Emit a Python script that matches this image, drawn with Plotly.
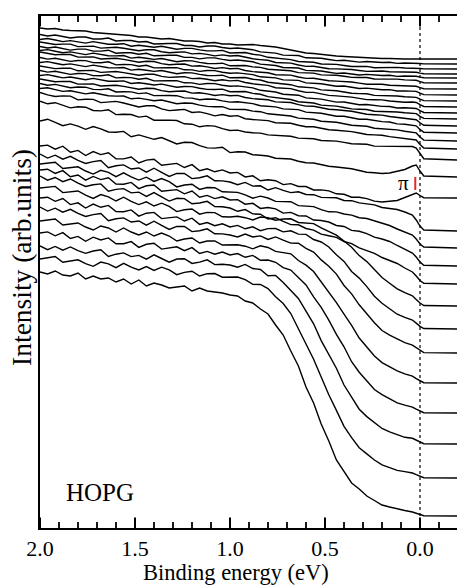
import plotly.graph_objects as go

# Binding energy grid (eV)
E = [2.00, 1.96, 1.92, 1.88, 1.84, 1.80, 1.76, 1.72, 1.68, 1.64, 1.60, 1.56, 1.52, 1.48, 1.44,
     1.40, 1.36, 1.32, 1.28, 1.24, 1.20, 1.16, 1.12, 1.08, 1.04, 1.00, 0.96, 0.92, 0.88, 0.84,
     0.80, 0.76, 0.72, 0.68, 0.64, 0.60, 0.56, 0.52, 0.48, 0.44, 0.40, 0.36, 0.32, 0.28, 0.24,
     0.20, 0.16, 0.12, 0.08, 0.04, 0.02, 0.00, -0.02, -0.20]

# vertical offsets of the stacked EDCs (top to bottom)
OFFSETS = [469, 464, 459, 454, 450, 445, 439, 433, 427, 421, 415, 409, 402, 395, 387, 379, 368,
           351,
           330, 297, 280, 262, 244, 222, 199, 175, 145, 115, 84, 50, 12]

# intensity profiles (above each curve's offset)
T01 = [31, 30, 30.5, 29, 28.5, 28, 28, 26.5, 26, 25.5, 24.5, 24, 23.5, 22, 22, 21, 20, 20.5, 19, 18, 18, 17.5, 16, 16.5, 15, 15, 14, 14.5,
       14.5, 13.5, 13, 12, 10.5, 9, 7, 6, 5.5, 4.5, 3.5, 3, 2.5, 2, 1.5, 1, 1, 0.5, 0.5, 0, 0, 0, 0, 0, 0, 0]
T02 = [29.5, 28, 29, 27.5, 26, 27, 27, 25, 25, 26, 23, 23.5, 23.5, 22, 22.5, 20, 20.5, 20.5, 20.5, 18.5, 18.5, 17, 18, 18, 16.5, 15.5, 16, 15,
       14.3, 12.1, 11.4, 10.9, 8.9, 8.4, 8.5, 6.2, 5.9, 5.7, 4.5, 3.4, 3.8, 2.8, 1.9, 2.5, 1.7, 1.5, 1.8, 0.6, 1, 1, 0.9, 0.5, 0.1, 0]
T03 = [29.5, 30.5, 29, 27.4, 28.4, 27.4, 25.9, 27.4, 26.4, 24.8, 24.8, 25.3, 22.8, 23.8, 22.7, 21.7, 22.7, 21.2, 19.7, 20.6, 20.6, 19.1, 18.1, 18.1, 18.6, 16, 16.5, 16.5,
       14.7, 13.9, 11.7, 11, 10.5, 9.4, 7.5, 7.1, 6.7, 5, 4.75, 4.6, 3.5, 2.5, 2.5, 2.6, 1.3, 1.5, 1.3, 1.6, 1, 1, 0.9, 0.5, 0.1, 0]
T04 = [32, 30.5, 29.5, 29.9, 29.9, 27.4, 27.9, 27.9, 25.9, 26.3, 26.8, 25.8, 24.8, 23.3, 24.2, 24.2, 22.2, 21.2, 21.7, 22.1, 20.1, 20.6, 19.6, 18.1, 19.1, 18, 18.5, 16.5,
       15.2, 14.4, 13.7, 11.5, 11, 10.9, 9, 7.6, 7.7, 6.5, 5.25, 5.1, 5, 4.5, 3.5, 2.6, 2.8, 3, 2.3, 2.1, 1.5, 2, 1.8, 0.9, 0.2, 0]
T05 = [31.5, 30, 31, 29.4, 27.9, 28.9, 28.9, 26.9, 26.9, 27.8, 24.8, 25.3, 25.3, 23.8, 24.7, 22.2, 22.7, 22.7, 22.7, 20.6, 20.6, 19.1, 20.1, 20.1, 18.6, 17.5, 18, 17,
       16.2, 13.9, 13.2, 12.5, 10.5, 9.9, 10, 7.6, 7.2, 7, 5.75, 4.6, 5, 4, 3, 3.6, 2.8, 2.5, 2.8, 1.6, 2, 2, 1.8, 0.9, 0.2, 0]
T06 = [32.5, 33.4, 31.8, 30.2, 31.1, 30, 28.4, 29.9, 28.8, 27.2, 27.1, 27.5, 24.9, 25.8, 24.7, 23.6, 24.5, 22.9, 21.3, 22.2, 22.1, 20.6, 19.5, 19.4, 19.8, 17.2, 17.6, 17.5,
       16.1, 15.6, 13.7, 13.4, 13, 12.2, 10.4, 10.1, 9.9, 8.1, 8, 7.8, 6.7, 5.6, 5.5, 5.5, 4, 4.1, 3.7, 3.9, 3.1, 3, 2.7, 1.4, 0.3, 0]
T07 = [37, 35.4, 34.2, 34.6, 34.5, 31.9, 32.2, 32.1, 30, 30.3, 30.7, 29.6, 28.5, 26.8, 27.7, 27.5, 25.4, 24.3, 24.7, 25, 22.9, 23.3, 22.1, 20.5, 21.4, 20.3, 20.6, 18.5,
       17.4, 16.9, 16.3, 14.3, 13.9, 13.9, 12, 10.6, 10.8, 9.4, 8.2, 7.9, 7.7, 7, 5.9, 4.8, 4.7, 4.7, 3.8, 3.4, 2.65, 3, 2.7, 1.4, 0.3, 0]
T08 = [37.5, 35.9, 36.8, 35.2, 33.6, 34.5, 34.4, 32.4, 32.3, 33.2, 30.1, 30.5, 30.4, 28.8, 29.7, 27.1, 27.5, 27.4, 27.3, 25.2, 25.1, 23.6, 24.5, 24.4, 22.8, 21.7, 22.1, 21,
       20.4, 18.2, 17.7, 17.1, 15.1, 14.5, 14.6, 12.1, 11.7, 11.3, 10, 8.7, 9, 7.7, 6.5, 6.9, 5.8, 5.3, 5.35, 3.96, 4.16, 4, 3.6, 1.8, 0.4, 0]
T09 = [38.5, 39.4, 37.8, 36.2, 37.1, 36, 34.4, 35.9, 34.8, 33.2, 33.1, 33.5, 30.9, 31.8, 30.7, 29.6, 30.5, 28.9, 27.3, 28.2, 28.1, 26.6, 25.5, 25.4, 25.8, 23.2, 23.6, 23.5,
       21.7, 21, 18.8, 18.1, 17.4, 16.3, 14.2, 13.6, 13.1, 11.1, 10.7, 10.3, 9, 7.7, 7.4, 7.2, 5.6, 5.5, 4.95, 5, 4.2, 4, 3.6, 1.8, 0.4, 0]
T10 = [41, 39.4, 38.4, 38.8, 38.8, 36.2, 36.7, 36.6, 34.6, 35, 35.5, 34.4, 33.3, 31.8, 32.7, 32.7, 30.6, 29.6, 30, 30.4, 28.4, 28.8, 27.8, 26.2, 27.2, 26.1, 26.6, 24.5,
       23.2, 22.3, 21.6, 19.3, 18.6, 18.4, 16.3, 14.6, 14.6, 13, 11.6, 11.1, 10.7, 9.9, 8.6, 7.4, 7.2, 7.1, 6, 5.5, 4.7, 5, 4.5, 2.3, 0.5, 0]
T11 = [42.5, 40.9, 41.8, 40.2, 38.6, 39.5, 39.4, 37.4, 37.3, 38.2, 35.1, 35.5, 35.4, 33.8, 34.7, 32.1, 32.5, 32.4, 32.3, 30.2, 30.1, 28.6, 29.5, 29.4, 27.8, 26.7, 27.1, 26,
       25.1, 22.7, 21.9, 21, 18.8, 18, 17.8, 15.1, 14.5, 13.9, 12.4, 10.9, 11, 9.6, 8.3, 8.5, 7.3, 6.6, 6.55, 5.07, 5.2, 5, 4.5, 2.3, 0.5, 0]
T12 = [43.5, 44.4, 42.7, 41.1, 42, 40.9, 39.2, 40.6, 39.5, 37.8, 37.7, 38.1, 35.5, 36.3, 35.2, 34, 34.9, 33.3, 31.7, 32.5, 32.4, 30.8, 29.6, 29.5, 29.9, 27.3, 27.6, 27.5,
       25.6, 24.7, 22.4, 21.5, 20.8, 19.5, 17.3, 16.6, 16, 13.9, 13.4, 12.9, 11.5, 10.1, 9.8, 9.5, 7.8, 7.6, 7.05, 7.07, 6.2, 6, 5.4, 2.7, 0.6, 0]
T13 = [47, 45.4, 44.2, 44.6, 44.5, 41.9, 42.2, 42.1, 40, 40.3, 40.7, 39.6, 38.5, 36.8, 37.7, 37.5, 35.4, 34.3, 34.7, 35, 32.9, 33.3, 32.1, 30.5, 31.4, 30.3, 30.6, 28.5,
       27.4, 26.8, 26.2, 24.1, 23.6, 23.5, 21.4, 19.9, 19.8, 18.3, 16.8, 16.2, 15.7, 14.7, 13.2, 11.8, 11.3, 10.9, 9.5, 8.6, 7.2, 7, 6.3, 3.2, 0.7, 0]
T14 = [49.5, 47.8, 48.6, 46.9, 45.2, 46, 45.8, 43.6, 43.4, 44.2, 41, 41.3, 41.1, 39.4, 40.1, 37.4, 37.7, 37.5, 37.3, 35.1, 34.9, 33.2, 34, 33.8, 32.1, 30.9, 31.2, 30,
       29.4, 27.3, 26.7, 26.1, 24.1, 23.5, 23.4, 20.9, 20.3, 19.8, 18.3, 16.7, 16.7, 15.2, 13.7, 13.8, 12.3, 11.4, 11, 9.1, 8.7, 8, 7.2, 3.6, 0.8, 0]
T15 = [52.5, 53.2, 51.4, 49.6, 50.2, 48.9, 47.1, 48.3, 47, 45.2, 44.9, 45, 42.2, 42.9, 41.6, 40.3, 41, 39.1, 37.3, 38, 37.7, 35.9, 34.6, 34.3, 34.4, 31.6, 31.8, 31.5,
       29.9, 29.3, 27.2, 26.6, 26.1, 25, 22.9, 22.4, 21.8, 19.8, 19.3, 18.7, 17.2, 15.7, 15.2, 14.8, 12.8, 12.4, 11.5, 11.1, 9.7, 9, 8.1, 4, 0.9, 0]
T16 = [56.5, 54.1, 52.5, 53.1, 52.9, 49.1, 49.7, 49.6, 46.4, 47, 47.6, 46, 44.3, 42, 43.3, 43.2, 40.1, 38.4, 39, 39.6, 36.5, 37.1, 35.4, 33.1, 34.5, 32.8, 33.4, 30.3,
       29.5, 28.9, 28.4, 26.3, 25.8, 25.8, 23.8, 22.3, 22.3, 20.8, 19.3, 18.8, 18.4, 17.4, 16, 14.5, 14.1, 13.7, 12.4, 11.5, 10.2, 10, 9, 4.5, 1, 0]
T17 = [58.8, 56.2, 57.3, 54.7, 52.1, 53.3, 52.8, 49.5, 49.1, 50.3, 45.4, 45.8, 45.5, 42.9, 43.9, 39.8, 40.2, 39.9, 39.5, 36.2, 35.8, 33.2, 34.4, 33.9, 31.3, 29.5, 29.9, 28,
       27.2, 26.9, 25.1, 24.8, 24.5, 23.7, 21.9, 21.6, 21.3, 19.5, 19.2, 18.9, 17.6, 16.3, 16, 15.7, 13.9, 13.8, 13.4, 13.7, 13.4, 13.5, 12, 6, 1.3, 0]
PI = [56, 57.8, 54.6, 51.3, 53.1, 50.9, 47.7, 50.5, 48.2, 45, 44.8, 45.6, 40.3, 42.1, 39.9, 37.7, 39.4, 36.2, 33, 34.8, 34.5, 31.3, 29.1, 28.9, 29.7, 24.4, 25.2, 25,
      22.3, 21.7, 21, 18.8, 18.2, 18, 15.8, 14.2, 14, 12.3, 10.7, 10, 9.3, 8.2, 6.5, 4.8, 4.2, 3.5, 4, 5.5, 7.5, 11, 12, 6, 1, 0]
L01 = [52, 52.9, 48.8, 51.8, 45.7, 47.6, 42.5, 46.4, 43.4, 45.3, 39.2, 39.1, 41, 35, 37.9, 38.8, 32.7, 33.6, 34.6, 30.5, 33.4, 27.3, 29.2, 26.2, 28.1, 25,
       25.6, 21.1, 22.2, 17.2, 18.3, 17.3, 13.4, 14.4, 11.5, 11.5, 8, 8.1, 7.1, 4.2, 3.7, 0.8, 0.8, -0.6, -3.1, -4, -3, -2.5, 0.5, 3.5, 5, 2.5, 0.3, 0]
L02 = [77, 72.9, 75.8, 71.8, 74.7, 70.6, 67.5, 69.4, 70.4, 63.3, 65.2, 66.1, 62, 63, 58.9, 62.8, 58.7, 54.6, 57.6, 57.5, 52.4, 53.3, 55.2, 50.2, 50.1, 49,
       46.3, 48.6, 44.9, 45.2, 41, 43.3, 40.6, 38.4, 39.2, 36.5, 36.3, 33.6, 33.4, 33.2, 30.5, 30.3, 28.1, 27.2, 26.1, 23.5, 22.5, 21.5, 19, 16, 11, 5, 1, 0]
L03 = [84, 84.8, 85.7, 79.5, 80.4, 81.2, 77, 73.9, 77.7, 75.6, 71.4, 75.2, 71.1, 67.9, 70.8, 66.6, 69.4, 66.3, 61.1, 63, 63.8, 58.6, 60.5, 60.3, 56.2, 56,
       55.6, 53.2, 49.8, 51.9, 50, 46.6, 46.7, 46.3, 42.4, 42, 41.4, 38.3, 36.2, 36.1, 34, 32.9, 30.3, 29.5, 27, 24.5, 22.5, 19, 16, 13, 9, 4, 1, 0]
L04 = [96, 96.8, 92.6, 95.4, 89.2, 91, 85.8, 89.6, 86.4, 88.2, 82, 81.8, 83.6, 77.4, 80.2, 81, 74.8, 75.6, 76.4, 72.2, 75, 68.8, 70.6, 67.4, 69.2, 66,
       66.4, 61.8, 62.7, 57.6, 58.5, 57.2, 52.9, 53.6, 50.3, 50, 46, 45.5, 44, 40.5, 39.5, 35.6, 34.7, 32.3, 28.9, 27, 24.5, 20.5, 17, 13, 9, 4, 0.8, 0]
L05 = [108, 103.8, 106.5, 102.3, 105, 100.8, 97.6, 99.3, 100.1, 92.8, 94.6, 95.4, 91.1, 91.9, 87.6, 91.4, 87.2, 82.9, 85.7, 85.4, 80.2, 81, 82.7, 77.5, 77.2, 76,
       72.7, 74.4, 70.1, 69.8, 65, 66.3, 62.6, 59.4, 59.2, 55.5, 53.9, 49.8, 48.2, 46.6, 42.5, 40.3, 36.1, 33.4, 30.7, 26.5, 23.5, 20.5, 16, 12, 8, 3.5, 0.7, 0]
L06 = [118, 118.8, 119.6, 113.4, 114.2, 115, 110.8, 107.6, 111.4, 109.2, 105, 108.8, 104.6, 101.4, 104.2, 100, 102.8, 99.6, 94.4, 96.2, 97, 91.8, 93.6, 93.4, 89.2, 89,
       89.7, 88.3, 86, 89, 88.2, 85.8, 87, 87.2, 83.5, 83, 82.4, 78.2, 74.2, 70.9, 65, 58.8, 50.4, 44.4, 36.4, 28.5, 22.8, 17.2, 13.3, 10.2, 6.6, 3, 0.5, 0]
L07 = [131, 131.8, 127.7, 130.5, 124.4, 126.2, 121, 124.9, 121.7, 123.6, 117.4, 117.2, 119.1, 112.9, 115.8, 116.6, 110.4, 111.3, 112.1, 108, 110.8, 104.6, 106.5, 103.3, 105.2, 102,
       103.6, 100.2, 102.2, 98.3, 100.4, 100.5, 97.1, 98.2, 94.9, 94.6, 89.5, 87, 82, 74.2, 67.6, 57.5, 50.9, 42.4, 32.8, 25.7, 20.3, 14.8, 11.7, 9, 5.9, 2.7, 0.5, 0]
L08 = [146, 141.9, 144.8, 140.8, 143.7, 139.6, 136.5, 138.4, 139.4, 132.3, 134.2, 135.1, 131, 132, 127.9, 131.8, 127.7, 123.6, 126.6, 126.5, 121.4, 122.3, 124.2, 119.2, 119.1, 118,
       116.1, 119, 116, 117.1, 113.6, 116.1, 112.9, 109.9, 109.8, 104.7, 101, 93.1, 86.8, 78.9, 67.5, 59.1, 48.2, 38.7, 30.3, 22.5, 17.8, 14.1, 10.4, 7.9, 5.1, 2.4, 0.4, 0]
L09 = [162, 163, 164, 158, 159, 160, 156, 153, 157, 155, 151, 155, 151, 148, 151, 147, 150, 147, 142, 144, 145, 140, 142, 142, 138, 138,
       138.3, 136.8, 134.2, 137.2, 135.5, 131.6, 130.6, 129.2, 122.5, 117.9, 111.5, 101.4, 90.5, 80.3, 68.8, 57.6, 45, 35.5, 27, 20.4, 16.5, 12.2, 9.2, 6.8, 4.4, 2, 0.3, 0]
L10 = [180, 181.1, 177.2, 180.4, 174.5, 176.6, 171.7, 175.8, 173, 175.1, 169.2, 169.3, 171.4, 165.6, 168.7, 169.8, 163.9, 165, 166.2, 162.3, 165.4, 159.5, 161.6, 158.8, 160.9, 158,
       159.4, 155.7, 157.6, 152.7, 153, 150.7, 145.4, 143, 135.2, 128.1, 116.2, 105.7, 92.8, 78.6, 66.2, 51.3, 40.8, 31.6, 23.5, 18.4, 14.5, 10.1, 7.8, 5.9, 3.8, 1.8, 0.3, 0]
L11 = [198, 194.3, 197.6, 193.8, 197.1, 193.4, 190.7, 193, 194.2, 187.5, 189.8, 191.1, 187.4, 188.6, 184.9, 189.2, 185.5, 181.8, 185, 185.3, 180.6, 181.9, 184.2, 179.4, 179.7, 179,
       176.8, 179.6, 175.5, 174.5, 168.3, 168.6, 161.6, 153.3, 145.6, 132.9, 120.2, 103.4, 90, 75.8, 59, 46.3, 34.8, 27.4, 21.5, 15.5, 12.1, 9.4, 6.7, 5.7, 3.7, 1.7, 0.3, 0]
L12 = [219, 220.2, 221.5, 215.7, 217, 218.2, 214.4, 211.7, 215.9, 214.2, 210.4, 214.6, 210.9, 208.1, 211.4, 207.6, 210.8, 208.1, 203.3, 205.6, 206.8, 202, 204.3, 204.5, 200.8, 201,
       201, 198.4, 193.6, 193.5, 189.4, 181.2, 174.5, 164.5, 149.4, 135, 118.7, 101, 83.3, 67.6, 51.7, 40.3, 30.3, 24.1, 18, 13.1, 10.5, 7.6, 6.4, 5, 3.3, 1.5, 0.3, 0]
L13 = [244, 242, 245, 241, 240, 243, 237, 240, 237, 238, 234, 237, 232, 236, 230, 233, 231, 228, 229, 230, 225, 228, 225, 224, 223, 221,
       220, 215, 213, 207, 202, 191, 181, 165, 150, 129, 113, 92, 75, 56, 45, 33, 27, 20, 15.5, 11, 9, 7, 5.5, 4, 3, 1.5, 0.3, 0]

CURVES = [T01, T02, T03, T04, T05, T06, T07, T08, T09, T10, T11, T12, T13, T14, T15, T16, T17,
          PI, L01, L02, L03, L04, L05, L06, L07, L08, L09, L10, L11, L12, L13]

# pi-band marker and Fermi level
PI_MARK_E = [0.025, 0.025]
PI_MARK_H = [338, 351]
PI_LABEL_E, PI_LABEL_H = 0.086, 345
FERMI_E = 0.0

# axis ticks (eV) and intensity-axis range
X_TICKS = [2.0, 1.5, 1.0, 0.5, 0.0]
X_TICK_TEXT = ["2.0", "1.5", "1.0", "0.5", "0.0"]
X_MINOR = [1.9, 1.8, 1.7, 1.6, 1.4, 1.3, 1.2, 1.1, 0.9, 0.8, 0.7, 0.6, 0.4, 0.3, 0.2, 0.1, -0.1]
Y_RANGE = [0, 512]

for idx, c in enumerate(CURVES):
    if len(c) != len(E):
        raise ValueError(f"curve {idx} has {len(c)} points")

SERIF = "Liberation Serif"
MAJOR_LEN = 10.5
MINOR_LEN = 6.0


def tick_path(values, length):
    xs, ys = [], []
    lo, hi = Y_RANGE
    for v in values:
        xs += [v, v, None, v, v, None]
        ys += [lo, lo + length, None, hi, hi - length, None]
    return xs, ys


fig = go.Figure()
for off, prof in zip(OFFSETS, CURVES):
    fig.add_trace(go.Scatter(x=E, y=[off + p for p in prof], mode="lines",
                             line=dict(color="black", width=1.4),
                             hoverinfo="skip", showlegend=False))

fig.add_trace(go.Scatter(x=PI_MARK_E, y=PI_MARK_H, mode="lines",
                         line=dict(color="#e8262a", width=2),
                         hoverinfo="skip", showlegend=False))

# inward ticks on bottom and top axes
mx, my = tick_path(X_TICKS, MAJOR_LEN)
fig.add_trace(go.Scatter(x=mx, y=my, mode="lines", line=dict(color="black", width=2),
                         hoverinfo="skip", showlegend=False, cliponaxis=False))
nx, ny = tick_path(X_MINOR, MINOR_LEN)
fig.add_trace(go.Scatter(x=nx, y=ny, mode="lines", line=dict(color="black", width=1.8),
                         hoverinfo="skip", showlegend=False, cliponaxis=False))

fig.add_shape(type="line", x0=FERMI_E, x1=FERMI_E, y0=0, y1=1, yref="paper",
              line=dict(color="black", width=1.2, dash="dot"), layer="below")

fig.add_annotation(x=PI_LABEL_E, y=PI_LABEL_H, text="π", showarrow=False,
                   font=dict(family=SERIF, size=21, color="black"),
                   xanchor="center", yanchor="middle")
fig.add_annotation(x=0.144, y=0.0703, xref="paper", yref="paper", text="HOPG",
                   showarrow=False, font=dict(family=SERIF, size=25, color="black"),
                   xanchor="center", yanchor="middle")
fig.add_annotation(x=0.47, y=-0.0865, xref="paper", yref="paper",
                   text="Binding energy (eV)", showarrow=False,
                   font=dict(family=SERIF, size=22.5, color="black"),
                   xanchor="center", yanchor="middle")
fig.add_annotation(x=-0.045, y=0.528, xref="paper", yref="paper",
                   text="Intensity (arb.units)", showarrow=False, textangle=-90,
                   font=dict(family=SERIF, size=27.5, color="black"),
                   xanchor="center", yanchor="middle")

fig.update_layout(
    template="none",
    width=457, height=585,
    margin=dict(l=40, r=0, t=16, b=57),
    paper_bgcolor="white", plot_bgcolor="white",
    showlegend=False,
    xaxis=dict(range=[2.0, -0.1947], tickmode="array", tickvals=X_TICKS, ticktext=X_TICK_TEXT,
               ticks="inside", ticklen=10, tickwidth=2, tickcolor="black",
               showline=True, linewidth=2, linecolor="black", mirror="ticks",
               showgrid=False, zeroline=False,
               tickfont=dict(family=SERIF, size=22, color="black")),
    yaxis=dict(range=Y_RANGE, showline=True, linewidth=2.5, linecolor="black",
               showticklabels=False, ticks="", showgrid=False, zeroline=False),
)

fig.write_html(
    "out.html",
    config={"displayModeBar": False, "staticPlot": True},
    post_script="document.body.style.margin='0';document.body.style.padding='0';"
                "document.body.style.overflow='hidden';",
)
